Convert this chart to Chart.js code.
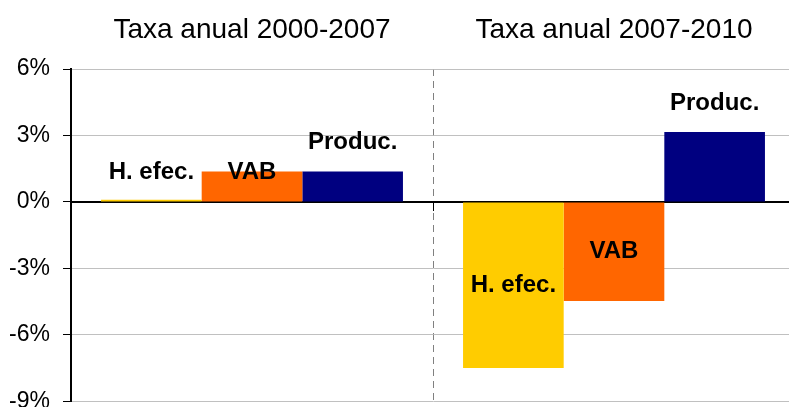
<!DOCTYPE html>
<html>
<head>
<meta charset="utf-8">
<script src="https://cdn.jsdelivr.net/npm/chart.js@4"></script>
<style>
  html, body { margin: 0; padding: 0; background: #fff; overflow: hidden; }
  #wrap { width: 789px; height: 407px; overflow: hidden; }
</style>
</head>
<body>
<div id="wrap"><canvas id="chart" width="796" height="428"></canvas></div>
<script>
// periods and series (annual rates, %)
const periods = ['Taxa anual 2000-2007', 'Taxa anual 2007-2010'];
const seriesNames = ['H. efec.', 'VAB', 'Produc.'];
const horasEfec = [0.1, -7.5];
const vab = [1.37, -4.48];
const produc = [1.37, 3.15];
const yTicks = [-9, -6, -3, 0, 3, 6];

const colors = ['#FFCC00', '#FF6600', '#000080'];
const FONT = '"Liberation Sans", Arial, sans-serif';

// where each bar label goes: number = px offset from bar end, 'mid' = centre of bar
const labelPlace = [
    [-27, 1, -29],
    ['mid', 'mid', -29]
];

const barLabels = {
    id: 'barLabels',
    afterDatasetsDraw(chart) {
        const ctx = chart.ctx;
        ctx.save();
        ctx.font = 'bold 24px ' + FONT;
        ctx.fillStyle = '#000';
        ctx.textAlign = 'center';
        ctx.textBaseline = 'middle';
        chart.data.datasets.forEach((ds, i) => {
            chart.getDatasetMeta(i).data.forEach((bar, j) => {
                const place = labelPlace[j][i];
                const y = place === 'mid' ? (bar.y + bar.base) / 2 : bar.y + place;
                ctx.fillText(ds.label, bar.x, y);
            });
        });
        ctx.restore();
    }
};

new Chart(document.getElementById('chart'), {
    type: 'bar',
    data: {
        labels: periods,
        datasets: [
            { label: seriesNames[0], data: horasEfec, backgroundColor: colors[0] },
            { label: seriesNames[1], data: vab, backgroundColor: colors[1] },
            { label: seriesNames[2], data: produc, backgroundColor: colors[2] }
        ]
    },
    options: {
        responsive: false,
        animation: false,
        devicePixelRatio: 1,
        categoryPercentage: 0.834,
        barPercentage: 1,
        layout: { padding: { left: 0, right: 1, top: 0, bottom: 14 } },
        plugins: {
            legend: { display: false },
            tooltip: { enabled: false }
        },
        scales: {
            x: {
                position: { y: 0 },
                ticks: { display: false },
                grid: {
                    offset: true,
                    color: c => c.index === 1 ? '#808080' : 'rgba(0,0,0,0)',
                    tickColor: c => c.index === 1 ? '#000' : 'rgba(0,0,0,0)',
                    tickLength: 8,
                    tickBorderDash: [],
                    lineWidth: 1
                },
                border: { color: '#000', width: 2, dash: [7, 5] }
            },
            xTop: {
                type: 'category',
                position: 'top',
                labels: periods,
                offset: true,
                grid: { display: false },
                border: { display: false },
                ticks: {
                    color: '#000',
                    font: { family: FONT, size: 28 },
                    padding: 14
                },
                afterFit: s => { s.height = 69; }
            },
            y: {
                min: -9,
                max: 6,
                afterBuildTicks: s => { s.ticks = yTicks.map(v => ({ value: v })); },
                ticks: {
                    color: '#000',
                    font: { family: FONT, size: 23 },
                    padding: 13,
                    callback: v => v + '%'
                },
                grid: {
                    color: '#c0c0c0',
                    tickColor: '#000',
                    tickLength: 8,
                    lineWidth: 1
                },
                border: { color: '#000', width: 2 },
                afterFit: s => { s.width = 71; }
            }
        }
    },
    plugins: [barLabels]
});
</script>
</body>
</html>
